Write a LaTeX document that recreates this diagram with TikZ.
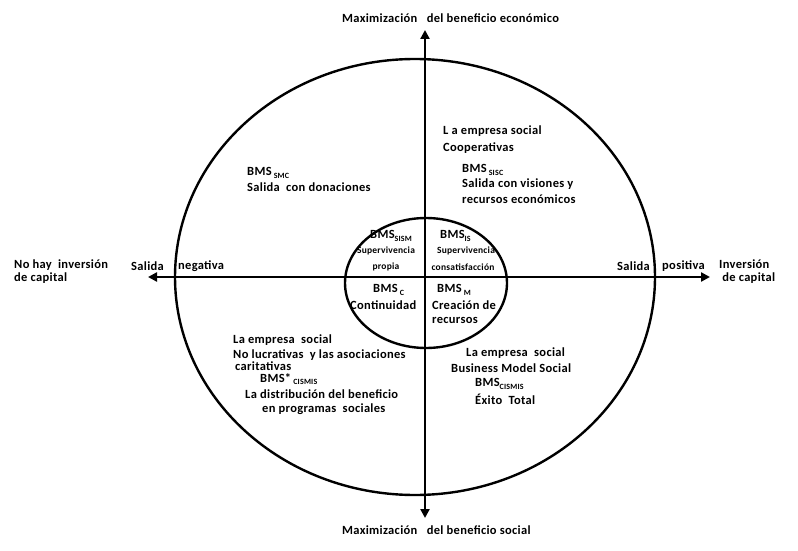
\documentclass[tikz,border=0pt]{standalone}
\usepackage{fontspec}
\setmainfont{Carlito}[BoldFont={* Bold},LetterSpace=2.5]
\usetikzlibrary{arrows.meta}
\newcommand{\sbs}[1]{\raisebox{-2.5pt}{\fontsize{8}{8}\selectfont #1}}
\begin{document}
\begin{tikzpicture}[x=1pt,y=-1pt,
  lbl/.style={anchor=west,inner sep=0pt,font=\fontsize{12.5}{13}\selectfont\bfseries},
  sml/.style={anchor=center,inner sep=0pt,font=\fontsize{9.5}{10}\selectfont\bfseries},
  axis/.style={line width=2.6pt,-{Triangle[length=9pt,width=9pt]}},
  ring/.style={line width=2.4pt}]
\useasboundingbox (0,0) rectangle (798,551);
% shapes
\draw[ring] (415,277) ellipse [x radius=240, y radius=218];
\draw[ring] (426,283) ellipse [x radius=81, y radius=65];
\coordinate (cL) at (425,277);
\coordinate (xl) at (148,277);
\coordinate (xr) at (710,277);
\coordinate (yt) at (425,30);
\coordinate (yb) at (425,518);
\draw[axis] (cL) -- (xl);
\draw[axis] (cL) -- (xr);
\draw[axis] (cL) -- (yt);
\draw[axis] (cL) -- (yb);
% axis labels
\node[lbl] (top) at (342,18) {Maximización\ \ \ del beneficio económico};
\node[lbl] (bot) at (342,530) {Maximización\ \ \ del beneficio social};
\node[lbl,align=left] (nohay) at (14,272) {No hay\ \ inversión\\de capital};
\node[lbl] (salN) at (131,266) {Salida};
\node[lbl] (neg) at (178,266) {negativa};
\node[lbl] (salP) at (617,266) {Salida};
\node[lbl] (pos) at (662,266) {positiva};
\node[lbl,align=left] (inv) at (719,272) {Inversión\\\ de capital};
% top right
\node[lbl] (tr1) at (443,131) {L a empresa\ social};
\node[lbl] (tr2) at (443,148) {Cooperativas};
\node[lbl] (tr3) at (462,170) {BMS\,\sbs{SISC}};
\node[lbl] (tr4) at (462,184) {Salida\ con visiones\ y};
\node[lbl] (tr5) at (462,199) {recursos\ económicos};
% top left
\node[lbl] (tl1) at (247,173) {BMS\,\sbs{SMC}};
\node[lbl] (tl2) at (247,187) {Salida\ \ con donaciones};
% inner
\node[lbl] (i1) at (370,236) {BMS\sbs{SISM}};
\node[sml] (i1a) at (386,251) {Supervivencia};
\node[sml] (i1b) at (386,267) {propia};
\node[lbl] (i2) at (440,236) {BMS\sbs{IS}};
\node[sml] (i2a) at (466,251) {Supervivencia};
\node[sml] (i2b) at (463,267) {consatisfacción};
\node[lbl] (i3) at (373,290) {BMS\,\sbs{C}};
\node[lbl] (i3a) at (350,305) {Continuidad};
\node[lbl] (i4) at (437,290) {BMS\,\sbs{M}};
\node[lbl] (i4a) at (432,305) {Creación\ de};
\node[lbl] (i4b) at (432,320) {recursos};
% bottom left
\node[lbl] (bl1) at (233,340) {La empresa\ \ social};
\node[lbl] (bl2) at (233,355) {No lucrativas\ \ y las\ asociaciones};
\node[lbl] (bl3) at (235,366) {caritativas};
\node[lbl] (bl4) at (260,379) {BMS*\,\sbs{CISMIS}};
\node[lbl] (bl5) at (245,394) {La distribución\ del beneficio};
\node[lbl] (bl6) at (262,409) {en programas\ \ sociales};
% bottom right
\node[lbl] (br1) at (466,353) {La empresa\ \ social};
\node[lbl] (br2) at (451,368) {Business Model Social};
\node[lbl] (br3) at (475,384) {BMS\sbs{CISMIS}};
\node[lbl] (br4) at (475,399) {Éxito\ \ Total};
\end{tikzpicture}
\end{document}
